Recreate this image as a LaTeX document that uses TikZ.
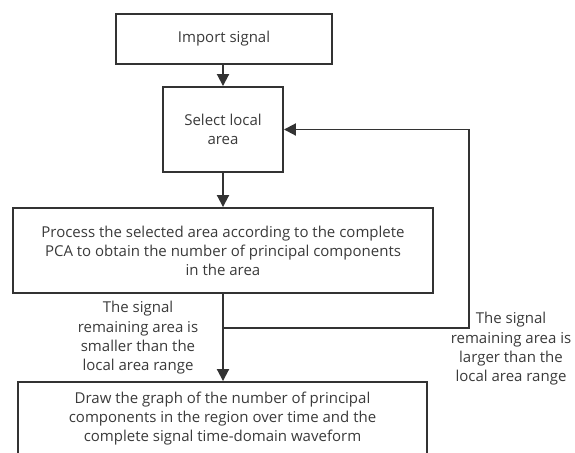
\documentclass[tikz,border=0pt]{standalone}
\usepackage{fontspec}
\setmainfont{Open Sans}
\usetikzlibrary{arrows.meta}
\definecolor{ln}{HTML}{333333}
\definecolor{tx}{HTML}{3A3A3A}
\tikzset{
  box/.style={draw=ln, line width=1.9pt, rectangle, inner sep=0pt, align=center, text=tx, font=\fontsize{15}{19}\selectfont},
  lbl/.style={align=center, text=tx, inner sep=0pt, font=\fontsize{15}{19.3}\selectfont},
  conn/.style={draw=ln, line width=1.9pt},
  arr/.style={conn, -{Triangle[width=12pt,length=12pt]}}
}
\begin{document}
\begin{tikzpicture}[x=1pt,y=-1pt]
\clip (0,0) rectangle (575,452);
\node[box, minimum width=216pt, minimum height=50pt] (imp) at (224,39) {Import signal};
\node[box, minimum width=120pt, minimum height=85pt] (sel) at (223,129.5) {Select local\\area};
\node[box, minimum width=420pt, minimum height=85pt] (proc) at (223,250.5) {Process the selected area according to the complete\\PCA to obtain the number of principal components\\in the area};
\node[box, minimum width=409pt, minimum height=74pt] (draw) at (222.5,419) {Draw the graph of the number of principal\\components in the region over time and the\\complete signal time-domain waveform};
\coordinate (br) at (223,328);
\coordinate (rc) at (469,328);
\draw[arr] (imp.south -| sel.north) -- (sel.north);
\draw[arr] (sel.south) -- (proc.north);
\draw[arr] (proc.south) -- (draw.north -| proc.south);
\draw[arr] (br) -- (rc) |- (sel.east);
\node[lbl] (l1) at (138,338) {The signal\\remaining area is\\smaller than the\\local area range};
\node[lbl] (l2) at (511,349) {The signal\\remaining area is\\larger than the\\local area range};
\end{tikzpicture}
\end{document}
